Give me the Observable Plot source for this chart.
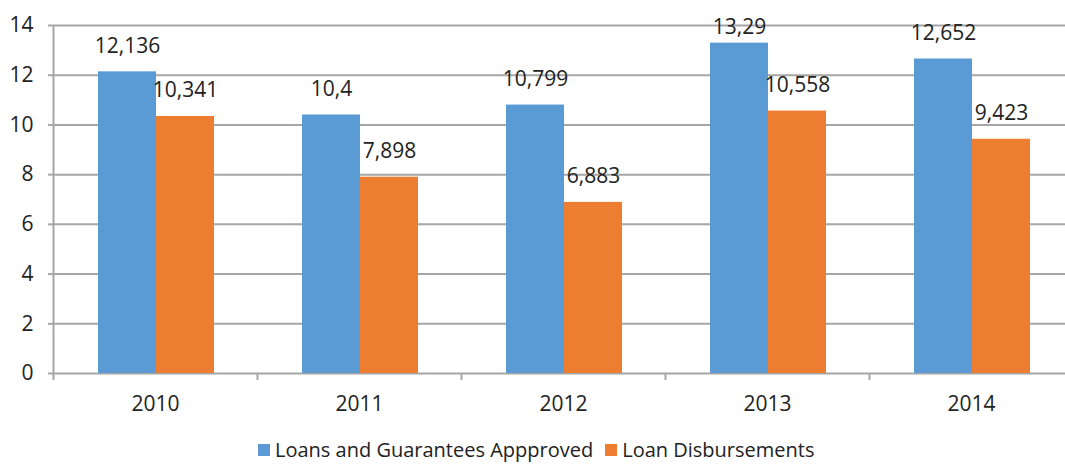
<!DOCTYPE html>
<html>
<head>
<meta charset="utf-8">
<script src="https://cdn.jsdelivr.net/npm/d3@7"></script>
<script src="https://cdn.jsdelivr.net/npm/@observablehq/plot@0.6"></script>
<style>
  html, body { margin: 0; padding: 0; background: #fff; overflow: hidden; }
  body { font-family: "Open Sans", "Noto Sans", sans-serif; }
  #legend { display: flex; align-items: center; height: 36px; margin-top: 12px; padding-left: 258px; font-size: 20px; line-height: 24px; color: #222; }
  .item { display: flex; align-items: center; margin-right: 12px; }
  .sw { width: 12px; height: 12px; margin-right: 5px; }
</style>
</head>
<body>
<div id="chart"></div>
<div id="legend"></div>
<script>
const years = ["2010", "2011", "2012", "2013", "2014"];
const approved = [12.136, 10.4, 10.799, 13.29, 12.652];
const disbursed = [10.341, 7.898, 6.883, 10.558, 9.423];
const seriesNames = ["Loans and Guarantees Appproved", "Loan Disbursements"];
const colors = ["#5B9BD5", "#ED7D31"];
const yTicks = [0, 2, 4, 6, 8, 10, 12, 14];

const rowsA = years.map((y, i) => ({year: y, value: approved[i]}));
const rowsB = years.map((y, i) => ({year: y, value: disbursed[i]}));
const fmt = v => String(v).replace(".", ",");
// Excel keeps data labels inside the plot area
const labelY = d => Math.min(d.value, 12.9);

const BW = 204;
const grid = "#a6a6a6";
const textColor = "#222";
const FS = 21;

const chart = Plot.plot({
  width: 1065,
  height: 420,
  marginTop: 25,
  marginBottom: 47,
  marginLeft: 53,
  marginRight: 0,
  style: {fontFamily: '"Open Sans", "Noto Sans", sans-serif', fontSize: FS + "px", color: textColor, background: "#fff"},
  x: {type: "band", domain: years, range: [53, 53 + 5 * BW], padding: 0},
  y: {domain: [0, 14]},
  marks: [
    Plot.ruleY(yTicks, {stroke: grid, strokeWidth: 2}),
    Plot.barY(rowsA, {x: "year", y: "value", fill: colors[0], insetLeft: 45, insetRight: BW - 103}),
    Plot.barY(rowsB, {x: "year", y: "value", fill: colors[1], insetLeft: 103, insetRight: BW - 161}),
    Plot.ruleX([years[0]], {x: d => d, y1: 0, y2: 14, dx: -BW / 2, stroke: grid, strokeWidth: 2}),
    Plot.ruleX(years, {x: d => d, y1: 0, y2: 0, insetBottom: -7, dx: -BW / 2, stroke: grid, strokeWidth: 2}),
    Plot.axisY({ticks: yTicks, tickSize: 5, tickPadding: 15, stroke: grid, strokeWidth: 2, strokeOpacity: 1, label: null, fontSize: FS, fill: textColor}),
    Plot.axisX({tickSize: 0, tickPadding: 23, label: null, fontSize: FS, fill: textColor}),
    Plot.text(rowsA, {x: "year", y: labelY, text: d => fmt(d.value), dx: -28, dy: -26, fontSize: FS, fill: textColor}),
    Plot.text(rowsB, {x: "year", y: labelY, text: d => fmt(d.value), dx: 30, dy: -26, fontSize: FS, fill: textColor})
  ]
});
document.getElementById("chart").appendChild(chart);

const legend = document.getElementById("legend");
seriesNames.forEach((name, i) => {
  const item = document.createElement("div");
  item.className = "item";
  const sw = document.createElement("span");
  sw.className = "sw";
  sw.style.background = colors[i];
  const t = document.createElement("span");
  t.textContent = name;
  item.appendChild(sw);
  item.appendChild(t);
  legend.appendChild(item);
});
</script>
</body>
</html>
